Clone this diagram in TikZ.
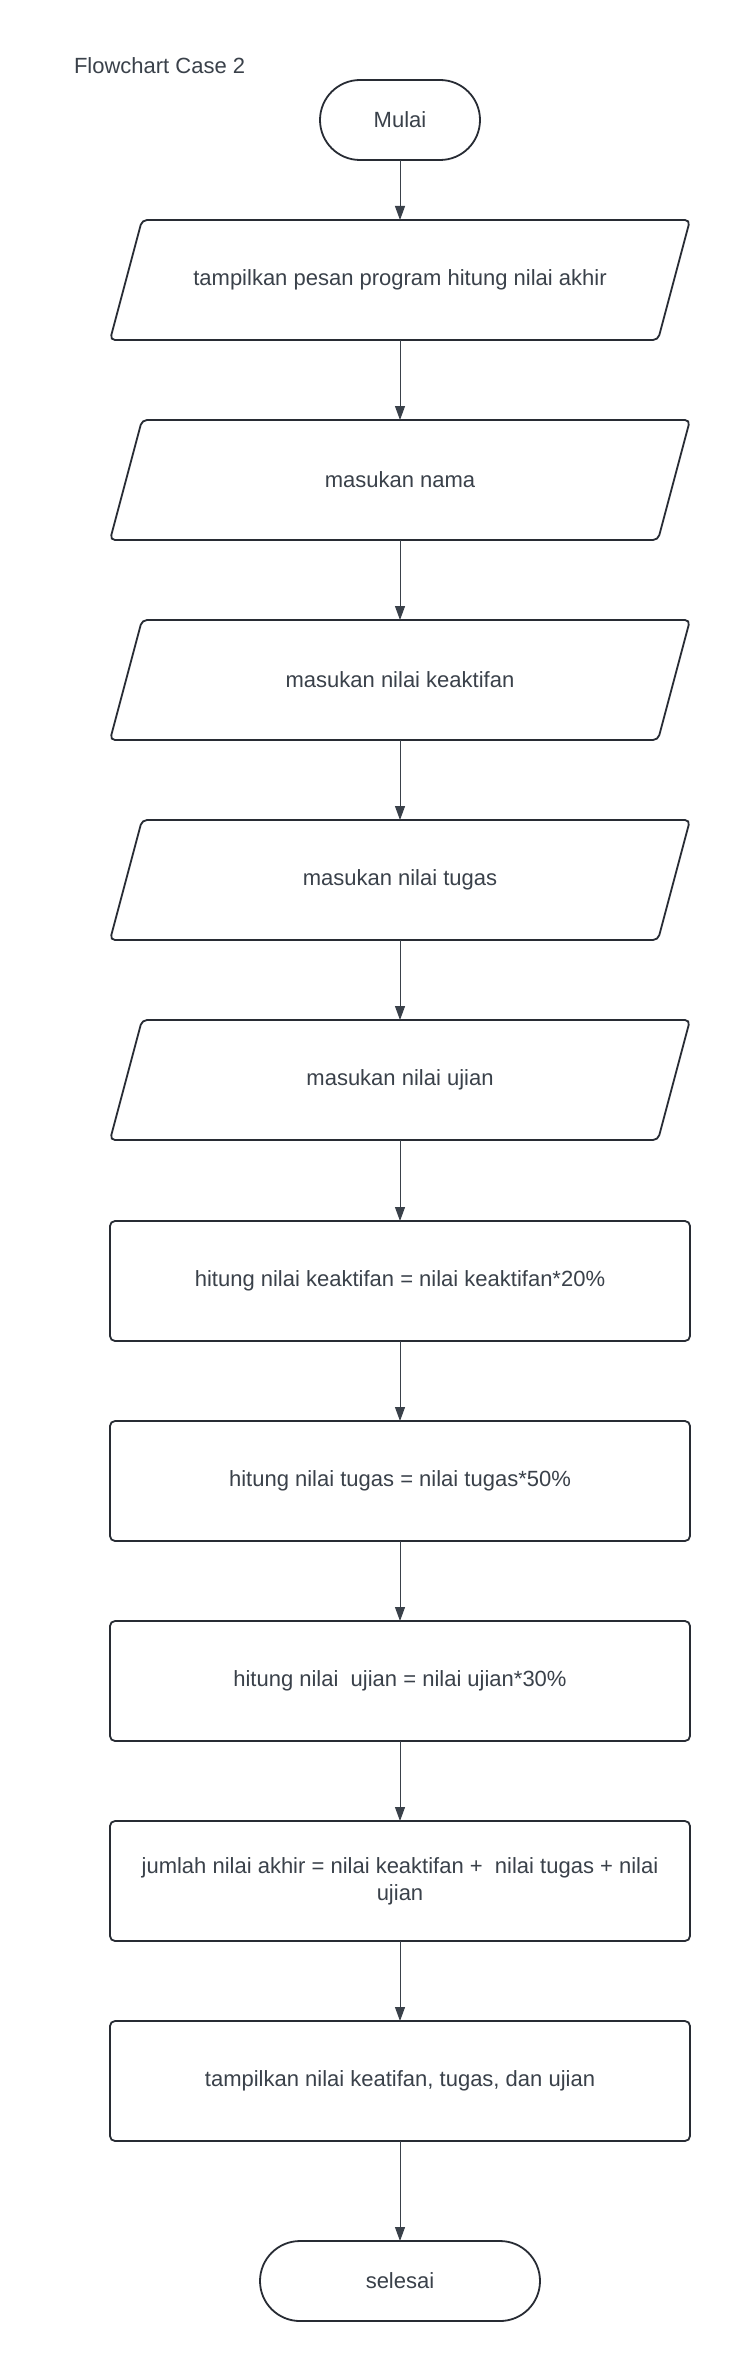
\documentclass[tikz,border=0pt]{standalone}
\usepackage{fontspec}
\setmainfont{Liberation Sans}
\usetikzlibrary{arrows.meta}
\definecolor{txtc}{RGB}{58,65,74}
\definecolor{brdc}{RGB}{40,44,52}
\definecolor{arrc}{RGB}{58,65,74}
\tikzset{
  base/.style={inner sep=0pt, outer sep=0pt, text=txtc, font=\fontsize{22}{27}\selectfont, align=center},
  term/.style={base, draw=brdc, line width=1.8pt, rounded corners=40pt, minimum height=80pt},
  iobox/.style={base, draw=none, minimum width=548pt, minimum height=120pt},
  pline/.style={draw=brdc, line width=1.8pt, rounded corners=5pt},
  procbox/.style={base, draw=brdc, line width=1.8pt, rounded corners=5pt, minimum width=580pt, minimum height=120pt},
  arr/.style={draw=arrc, line width=1pt, -{Triangle[width=10pt,length=14pt]}}
}
\begin{document}
\begin{tikzpicture}[x=1pt,y=-1pt]
\useasboundingbox[fill=white] (0,0) rectangle (730,2360);
\node[base, anchor=west] (title) at (74,66) {Flowchart Case 2};
\node[term, minimum width=160pt] (start) at (400,120) {Mulai};
\node[iobox] (p1) at (400,280) {tampilkan pesan program hitung nilai akhir};
\node[iobox] (p2) at (400,480) {masukan nama};
\node[iobox] (p3) at (400,680) {masukan nilai keaktifan};
\node[iobox] (p4) at (400,880) {masukan nilai tugas};
\node[iobox] (p5) at (400,1080) {masukan nilai ujian};
\node[procbox] (r1) at (400,1281) {hitung nilai keaktifan = nilai keaktifan*20\%};
\node[procbox] (r2) at (400,1481) {hitung nilai tugas = nilai tugas*50\%};
\node[procbox] (r3) at (400,1681) {hitung nilai\ \ ujian = nilai ujian*30\%};
\node[procbox] (r4) at (400,1881) {jumlah nilai akhir = nilai keaktifan +\ \ nilai tugas + nilai\\ujian};
\node[procbox] (r5) at (400,2081) {tampilkan nilai keatifan, tugas, dan ujian};
\node[term, minimum width=280pt] (stop) at (400,2281) {selesai};
\foreach \n in {p1,p2,p3,p4,p5}{
  \draw[pline] ([xshift=16pt]\n.north west) -- ([xshift=16pt]\n.north east) -- ([xshift=-16pt]\n.south east) -- ([xshift=-16pt]\n.south west) -- cycle;
}
\draw[arr] (start.south) -- (p1.north);
\draw[arr] (p1.south) -- (p2.north);
\draw[arr] (p2.south) -- (p3.north);
\draw[arr] (p3.south) -- (p4.north);
\draw[arr] (p4.south) -- (p5.north);
\draw[arr] (p5.south) -- (r1.north);
\draw[arr] (r1.south) -- (r2.north);
\draw[arr] (r2.south) -- (r3.north);
\draw[arr] (r3.south) -- (r4.north);
\draw[arr] (r4.south) -- (r5.north);
\draw[arr] (r5.south) -- (stop.north);
\end{tikzpicture}
\end{document}
